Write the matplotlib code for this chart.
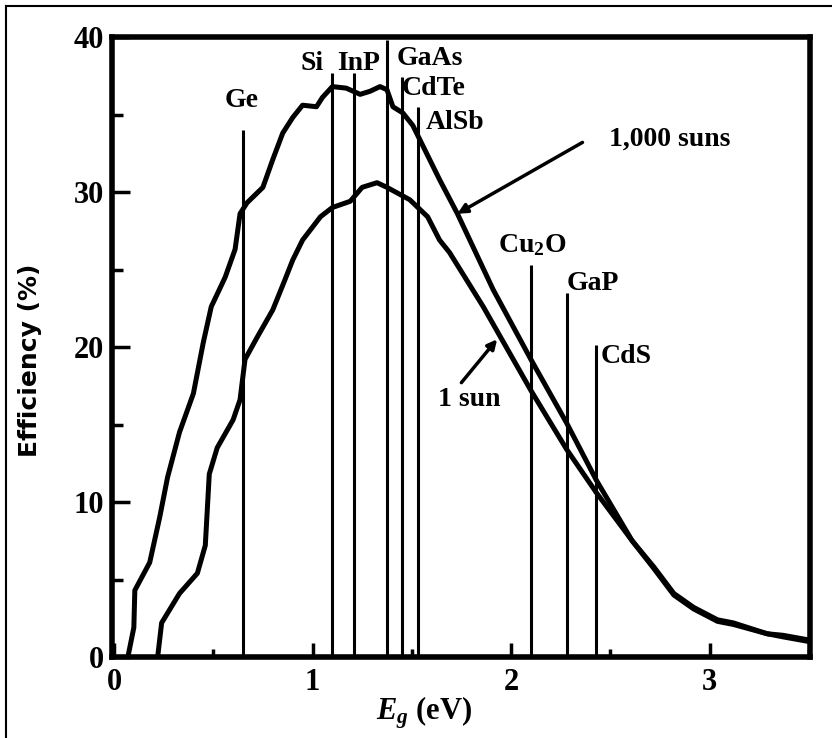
import matplotlib
matplotlib.use("Agg")
import matplotlib.pyplot as plt
from matplotlib.lines import Line2D
from matplotlib.ticker import MultipleLocator

# efficiency vs band gap
eg_1000 = [0.07, 0.10, 0.105, 0.18, 0.23, 0.27, 0.33, 0.40, 0.45, 0.49, 0.56, 0.61,
           0.635, 0.67, 0.75, 0.80, 0.85, 0.90, 0.95, 1.02, 1.05, 1.10, 1.17, 1.24,
           1.29, 1.34, 1.375, 1.405, 1.455, 1.505, 1.64, 1.73, 1.91, 2.10, 2.28,
           2.43, 2.61, 2.72, 2.82, 2.92, 3.04, 3.12, 3.29, 3.37, 3.50]
eff_1000 = [0.0, 1.9, 4.3, 6.1, 9.0, 11.6, 14.5, 17.0, 20.3, 22.6, 24.5, 26.3,
            28.6, 29.3, 30.3, 32.1, 33.8, 34.8, 35.6, 35.5, 36.1, 36.8, 36.7, 36.3,
            36.5, 36.8, 36.6, 35.5, 35.1, 34.3, 30.8, 28.6, 23.7, 19.2, 15.1,
            11.4, 7.5, 5.8, 4.1, 3.2, 2.4, 2.2, 1.5, 1.4, 1.1]

eg_1 = [0.22, 0.24, 0.33, 0.42, 0.46, 0.47, 0.48, 0.52, 0.60, 0.635, 0.66, 0.72,
        0.80, 0.86, 0.90, 0.95, 1.04, 1.10, 1.19, 1.25, 1.325, 1.375, 1.49, 1.58,
        1.64, 1.69, 1.86, 2.10, 2.28, 2.43, 2.61, 2.72, 2.82, 2.92, 3.04, 3.12,
        3.29, 3.37, 3.50]
eff_1 = [0.0, 2.2, 4.1, 5.4, 7.2, 9.5, 11.8, 13.5, 15.3, 16.6, 19.2, 20.6,
         22.4, 24.3, 25.6, 26.9, 28.4, 29.0, 29.4, 30.3, 30.6, 30.3, 29.5, 28.4,
         26.9, 26.1, 22.6, 17.2, 13.4, 10.6, 7.5, 5.7, 4.0, 3.1, 2.3, 2.1,
         1.5, 1.3, 1.0]

# semiconductor band gaps: name, Eg, top of marker line
materials = ["Ge", "Si", "InP", "GaAs", "CdTe", "AlSb", "Cu$_2$O", "GaP", "CdS"]
mat_eg = [0.65, 1.10, 1.21, 1.375, 1.45, 1.53, 2.10, 2.28, 2.43]
mat_top = [34.0, 37.7, 37.7, 39.8, 37.4, 35.5, 25.3, 23.5, 20.1]
label_xy = [(0.645, 35.9), (1.0, 38.3), (1.234, 38.3), (1.59, 38.6), (1.61, 36.7),
            (1.72, 34.5), (2.105, 26.6), (2.41, 24.1), (2.58, 19.4)]

plt.rcParams["mathtext.fontset"] = "custom"
plt.rcParams["mathtext.rm"] = "Liberation Serif:bold"
plt.rcParams["mathtext.it"] = "Liberation Serif:italic:bold"
plt.rcParams["mathtext.default"] = "rm"

serif = dict(family="Liberation Serif", weight="bold")

fig = plt.figure(figsize=(8.32, 7.38), dpi=100)
ax = fig.add_axes([112 / 832, 81 / 738, 698 / 832, 620 / 738])

ax.plot(eg_1000, eff_1000, color="black", lw=3.6, solid_joinstyle="round")
ax.plot(eg_1, eff_1, color="black", lw=3.6, solid_joinstyle="round")
ax.vlines(mat_eg, 0, mat_top, color="black", lw=2.2)

for name, (x, y) in zip(materials, label_xy):
    ax.text(x, y, name, ha="center", va="center", fontsize=20, **serif)

arrow = dict(arrowstyle="-|>", color="black", lw=2.5, mutation_scale=14,
             shrinkA=0, shrinkB=0)
ax.annotate("", xy=(1.73, 28.6), xytext=(2.36, 33.2), arrowprops=arrow)
ax.text(2.80, 33.4, "1,000 suns", ha="center", va="center", fontsize=20, **serif)
ax.annotate("", xy=(1.93, 20.5), xytext=(1.75, 17.7), arrowprops=arrow)
ax.text(1.79, 16.6, "1 sun", ha="center", va="center", fontsize=20, **serif)

ax.set_xlim(-0.01, 3.506)
ax.set_ylim(0, 40)
ax.xaxis.set_major_locator(MultipleLocator(1))
ax.xaxis.set_minor_locator(MultipleLocator(0.5))
ax.yaxis.set_major_locator(MultipleLocator(10))
ax.yaxis.set_minor_locator(MultipleLocator(5))
ax.tick_params(axis="x", which="major", direction="in", length=10, width=2.5, pad=8)
ax.tick_params(axis="x", which="minor", direction="in", length=6, width=2.5)
ax.tick_params(axis="y", which="major", direction="in", length=13, width=2.5, pad=6)
ax.tick_params(axis="y", which="minor", direction="in", length=8, width=2.5)
for lab in ax.get_xticklabels() + ax.get_yticklabels():
    lab.set_fontfamily("Liberation Serif")
    lab.set_fontweight("bold")
    lab.set_fontsize(22)
for sp in ax.spines.values():
    sp.set_linewidth(4)

ax.set_xlabel("$\\mathit{E_g}$ (eV)", fontsize=22, **serif)
ax.xaxis.set_label_coords((424 - 112) / 698, -0.06)
ax.set_ylabel("Efficiency (%)", fontsize=18, fontfamily="DejaVu Sans",
              fontweight="bold")
ax.yaxis.set_label_coords(-0.100, 0.479)

# scan border
fig.add_artist(Line2D([6 / 832, 6 / 832], [0, 732 / 738], color="black", lw=1.5,
                      transform=fig.transFigure))
fig.add_artist(Line2D([6 / 832, 1], [732 / 738, 732 / 738], color="black", lw=1.5,
                      transform=fig.transFigure))

fig.savefig("out.png", dpi=100)
